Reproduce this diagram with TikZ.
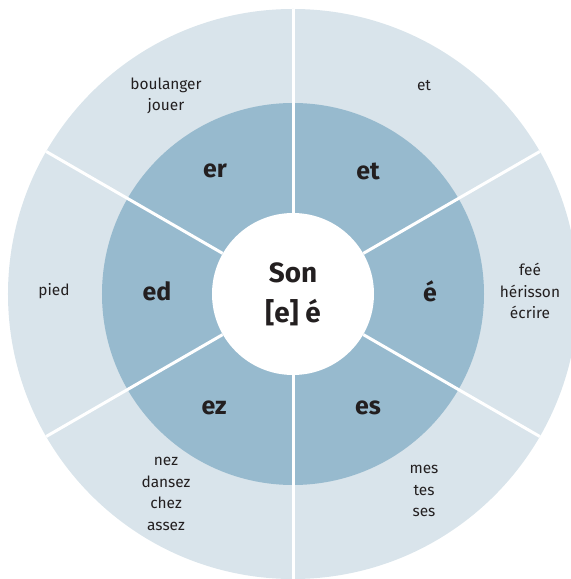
\documentclass[tikz,border=0pt]{standalone}
\usepackage{fontspec}
\setmainfont{Fira Sans}
\definecolor{ringout}{HTML}{D9E4EB}
\definecolor{ringmid}{HTML}{97BACE}
\definecolor{ink}{HTML}{231F20}

\begin{document}
\begin{tikzpicture}[x=1bp,y=1bp,
        word/.style={text=ink,align=center,font=\fontsize{15.5}{21.5}\selectfont},
        ending/.style={text=ink,font=\fontsize{25}{28}\selectfont\bfseries},
        hub/.style={circle,fill=white,minimum size=162bp,inner sep=0pt,
            text=ink,align=center,font=\fontsize{28}{40}\selectfont\bfseries}]
    \useasboundingbox (-293,-285) rectangle (278,294);
    % rings
    \fill[ringout] (0,0) circle (285);
    \fill[ringmid] (0,0) circle (191);
    \node[hub] (son) at (0,0) {Son\\{[e]} é};
    % dividers
    \foreach \a in {30,90,...,330}
        \draw[white,line width=3bp] (son.\a) -- (\a:285);
    % endings
    \node[ending] (er) at (-78,123) {er};
    \node[ending] (et) at (75,123) {et};
    \node[ending] (ed) at (-136,3) {ed};
    \node[ending] (eacute) at (137,3) {é};
    \node[ending] (ez) at (-79,-114) {ez};
    \node[ending] (es) at (75,-114) {es};
    % words
    \node[word] (w-er) at (-127,198) {boulanger\\jouer};
    \node[word] (w-et) at (131,208) {et};
    \node[word] (w-ed) at (-239,3) {pied};
    \node[word] (w-eacute) at (237,3) {feé\\hérisson\\écrire};
    \node[word] (w-ez) at (-127,-200) {nez\\dansez\\chez\\assez};
    \node[word] (w-es) at (131,-197) {mes\\tes\\ses};
\end{tikzpicture}
\end{document}
